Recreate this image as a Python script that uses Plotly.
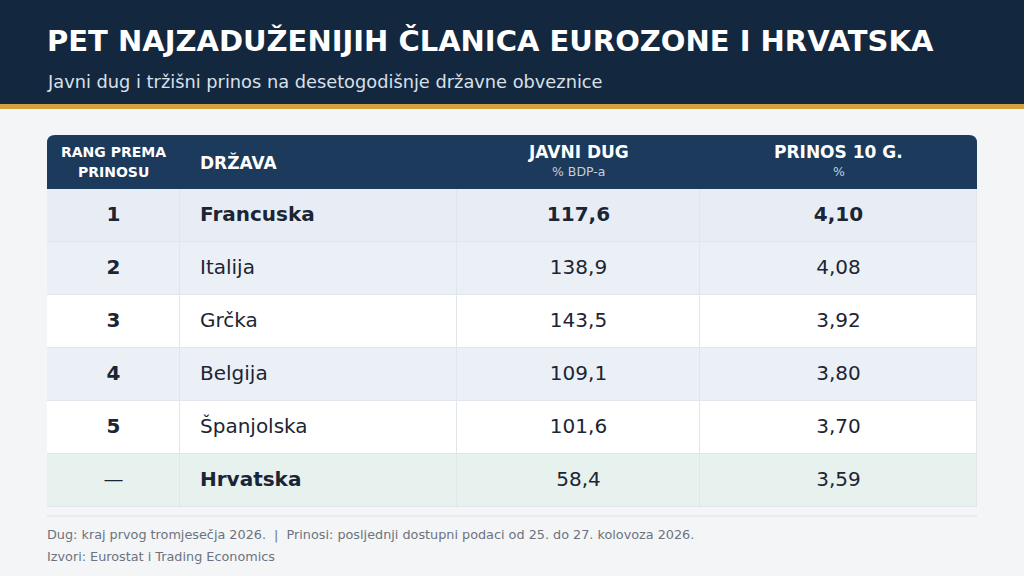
import plotly.graph_objects as go

W, H = 1024, 576

# --- podaci ---
ranks = ["1", "2", "3", "4", "5", "—"]
countries = ["Francuska", "Italija", "Grčka", "Belgija", "Španjolska", "Hrvatska"]
public_debt = [117.6, 138.9, 143.5, 109.1, 101.6, 58.4]
yield_10y = [4.10, 4.08, 3.92, 3.80, 3.70, 3.59]
row_style = [1, 2, 0, 2, 0, 3]          # 1 = prvi, 2 = zebra, 0 = bijelo, 3 = Hrvatska
bold_rows = [0, 5]
bold_values_rows = [0]

header_titles = ["RANG PREMA|PRINOSU", "DRŽAVA", "JAVNI DUG", "PRINOS 10 G."]
header_units = ["", "", "% BDP-a", "%"]

title = "PET NAJZADUŽENIJIH ČLANICA EUROZONE I HRVATSKA"
subtitle = "Javni dug i tržišni prinos na desetogodišnje državne obveznice"
footnote = "Dug: kraj prvog tromjesečja 2026.  |  Prinosi: posljednji dostupni podaci od 25. do 27. kolovoza 2026."
source = "Izvori: Eurostat i Trading Economics"

FONT = "DejaVu Sans"
NAVY = "#13273f"
HEAD = "#1b3a5c"
GOLD = "#d6a03f"
BG = "#f4f5f7"
INK = "#1c2533"

# --- geometrija (px) ---
T_LEFT, T_RIGHT = 47, 977
T_TOP, HEAD_BOTTOM = 135, 189
ROW_H = 53
col_edges = [0, 133, 410, 653, 930]
n_rows = len(countries)
body_h = ROW_H * n_rows


def px(x):
    return x / W


def py(y):
    return 1 - y / H


def fmt(v, d):
    return f"{v:.{d}f}".replace(".", ",")


def b(s, on):
    return f"<b>{s}</b>" if on else s


row_centers = [ROW_H * (i + 0.5) for i in range(n_rows)]
col_centers = [(col_edges[i] + col_edges[i + 1]) / 2 for i in range(4)]

fig = go.Figure()

# pozadina redova
c_white, c_first, c_zebra, c_hr = "#ffffff", "#e8edf5", "#ebeff6", "#e7f1ed"
fig.add_trace(go.Heatmap(
    x=col_edges,
    y=[ROW_H * i for i in range(n_rows + 1)],
    z=[[s] * 4 for s in row_style],
    zmin=0, zmax=3,
    colorscale=[[0, c_white], [0.1667, c_white], [0.1667, c_first], [0.5, c_first],
                [0.5, c_zebra], [0.8333, c_zebra], [0.8333, c_hr], [1, c_hr]],
    showscale=False,
    xgap=1, ygap=1,
    hoverinfo="skip",
))

rank_text = [f"<b>{r}</b>" if r != "—" else r for r in ranks]
country_text = [b(c, i in bold_rows) for i, c in enumerate(countries)]
debt_text = [b(fmt(v, 1), i in bold_values_rows) for i, v in enumerate(public_debt)]
yield_text = [b(fmt(v, 2), i in bold_values_rows) for i, v in enumerate(yield_10y)]

text_font = dict(family=FONT, size=20, color=INK)
for xs, txt, pos in [
    (col_centers[0], rank_text, "middle center"),
    (col_edges[1] + 20, country_text, "middle right"),
    (col_centers[2], debt_text, "middle center"),
    (col_centers[3], yield_text, "middle center"),
]:
    fig.add_trace(go.Scatter(
        x=[xs] * n_rows, y=row_centers, mode="text", text=txt,
        textposition=pos, textfont=text_font, hoverinfo="skip", showlegend=False,
    ))

shapes = [
    dict(type="rect", xref="paper", yref="paper", x0=0, x1=1, y0=py(104), y1=1,
         fillcolor=NAVY, line_width=0, layer="below"),
    dict(type="rect", xref="paper", yref="paper", x0=0, x1=1, y0=py(109), y1=py(104),
         fillcolor=GOLD, line_width=0, layer="below"),
    dict(type="path", xref="paper", yref="paper", fillcolor=HEAD, line_width=0, layer="below",
         path=(f"M {px(T_LEFT)} {py(HEAD_BOTTOM)} L {px(T_LEFT)} {py(T_TOP + 8)} "
               f"Q {px(T_LEFT)} {py(T_TOP)} {px(T_LEFT + 8)} {py(T_TOP)} "
               f"L {px(T_RIGHT - 8)} {py(T_TOP)} "
               f"Q {px(T_RIGHT)} {py(T_TOP)} {px(T_RIGHT)} {py(T_TOP + 8)} "
               f"L {px(T_RIGHT)} {py(HEAD_BOTTOM)} Z")),
    dict(type="line", xref="paper", yref="paper", x0=px(T_LEFT), x1=px(T_RIGHT),
         y0=py(516), y1=py(516), line=dict(color="#dde1e6", width=1)),
]

ann = [
    dict(text=f"<b>{title}</b>", x=px(45), y=py(41), font=dict(size=29, color="white")),
    dict(text=subtitle, x=px(45), y=py(81), font=dict(size=17.8, color="#d9e0ea")),
    dict(text=footnote, x=px(45), y=py(535), font=dict(size=12.8, color="#6b7380")),
    dict(text=source, x=px(45), y=py(556), font=dict(size=12.8, color="#6b7380")),
]
for a in ann:
    a.update(xref="paper", yref="paper", xanchor="left", yanchor="middle", showarrow=False)
    a["font"]["family"] = FONT

for i, (t, u) in enumerate(zip(header_titles, header_units)):
    if "|" in t:
        for k, part in enumerate(t.split("|")):
            ann.append(dict(text=f"<b>{part}</b>", x=col_centers[i], y=py(152 + 20 * k),
                            font=dict(family=FONT, size=14, color="white")))
    elif i == 1:
        ann.append(dict(text=f"<b>{t}</b>", x=col_edges[1] + 18, y=py(162), xanchor="left",
                        font=dict(family=FONT, size=17, color="white")))
    else:
        ann.append(dict(text=f"<b>{t}</b>", x=col_centers[i], y=py(152),
                        font=dict(family=FONT, size=17, color="white")))
        ann.append(dict(text=u, x=col_centers[i], y=py(171),
                        font=dict(family=FONT, size=12.5, color="#c3cedb")))
for a in ann[4:]:
    a.update(xref="x", yref="paper", yanchor="middle", showarrow=False)
    a.setdefault("xanchor", "center")

fig.update_layout(
    width=W, height=H,
    margin=dict(l=0, r=0, t=0, b=0),
    paper_bgcolor=BG,
    plot_bgcolor="#e1e6ec",
    shapes=shapes,
    annotations=ann,
    showlegend=False,
    xaxis=dict(domain=[px(T_LEFT), px(T_RIGHT)], range=[0, col_edges[-1]],
               visible=False, fixedrange=True),
    yaxis=dict(domain=[py(HEAD_BOTTOM + body_h), py(HEAD_BOTTOM)], range=[body_h, 0],
               visible=False, fixedrange=True),
)

fig.write_html("out.html", config={"displayModeBar": False},
               post_script="document.body.style.margin='0';")
